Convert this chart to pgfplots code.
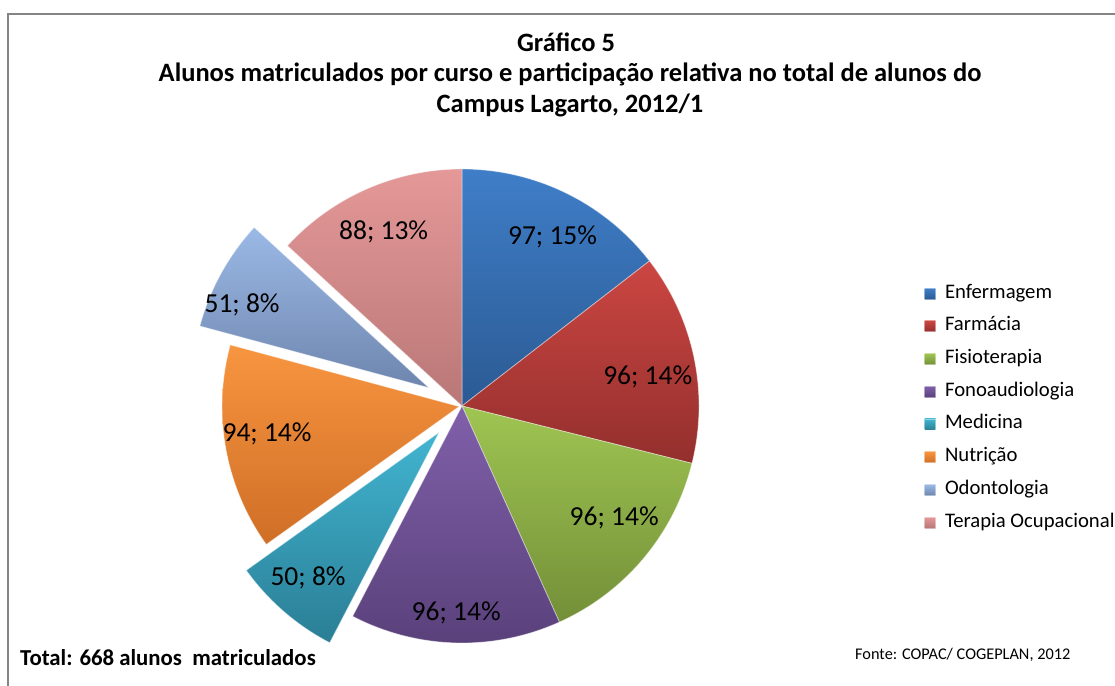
\documentclass[border=0pt]{standalone}
\usepackage{fontspec}
\setmainfont{Carlito}
\usepackage{pgfplots}
\pgfplotsset{compat=1.18}

\definecolor{enfT}{HTML}{3F7EC8}\definecolor{enfB}{HTML}{2B5A93}
\definecolor{farT}{HTML}{CB4642}\definecolor{farB}{HTML}{932F2D}
\definecolor{fisT}{HTML}{9FC552}\definecolor{fisB}{HTML}{738F38}
\definecolor{fonT}{HTML}{8060AA}\definecolor{fonB}{HTML}{5A417B}
\definecolor{medT}{HTML}{42B4D0}\definecolor{medB}{HTML}{2A7E95}
\definecolor{nutT}{HTML}{F89540}\definecolor{nutB}{HTML}{CF6E26}
\definecolor{odoT}{HTML}{9BB9E6}\definecolor{odoB}{HTML}{6E86AE}
\definecolor{terT}{HTML}{E59898}\definecolor{terB}{HTML}{B97777}

\tikzset{lbl/.style={font=\fontsize{27.5}{32}\selectfont}}

% pie centre (px), radius, total of all courses
\def\pcx{462}\def\pcy{279}\def\prad{237}\def\total{668}
\def\astart{90}

% #1 value, #2 percent label, #3 explode, #4 label radius, #5 label angle shift, #6 top, #7 bottom
\newcommand\slice[7]{%
  \pgfmathsetmacro\aend{\astart-#1/\total*360}%
  \pgfmathsetmacro\amid{(\astart+\aend)/2}%
  \pgfmathsetmacro\cx{\pcx+#3*cos(\amid)}%
  \pgfmathsetmacro\cy{\pcy+#3*sin(\amid)}%
  \pgfmathsetmacro\lx{\cx+#4*cos(\amid+#5)}%
  \pgfmathsetmacro\ly{\cy+#4*sin(\amid+#5)}%
  \edef\temp{\noexpand\addplot[top color=#6, bottom color=#7, draw=white,
    draw opacity=0.45, line width=0.8pt, domain=\aend:\astart, samples=60]
    ({\cx+\prad*cos(x)},{\cy+\prad*sin(x)}) -- (axis cs:\cx,\cy) -- cycle;}%
  \temp
  \edef\temp{\noexpand\node[lbl] at (axis cs:\lx,\ly) {#1; #2\noexpand\%};}%
  \temp
  \global\let\astart\aend
}

\begin{document}
\begin{tikzpicture}[x=1pt,y=1pt]
\useasboundingbox (0,0) rectangle (1115,685);
\draw[black!48, line width=1.3pt] (8,-2) -- (8,671) -- (1117,671);

\begin{axis}[at={(0,0)}, anchor=origin, x=1pt, y=1pt,
  xmin=0, xmax=1115, ymin=0, ymax=685, hide axis, clip=false,
  legend cell align=left,
  legend style={at={(axis cs:921,402)}, anchor=north west, draw=none, fill=none,
    font=\fontsize{20.7}{24}\selectfont, row sep=15.7pt, column sep=9pt,
    nodes={inner sep=0pt, text height=13pt, text depth=4pt}},
  legend image code/.code={\path[#1] (0pt,-5.5pt) rectangle (11pt,5.5pt);}]
\slice{97}{15}{0}{192}{-2}{enfT}{enfB}\addlegendentry{Enfermagem}
\slice{96}{14}{0}{188}{-3}{farT}{farB}\addlegendentry{Farmácia}
\slice{96}{14}{0}{189}{3.5}{fisT}{fisB}\addlegendentry{Fisioterapia}
\slice{96}{14}{0}{207}{0}{fonT}{fonB}\addlegendentry{Fonoaudiologia}
\slice{50}{8}{35}{196}{-1}{medT}{medB}\addlegendentry{Medicina}
\slice{94}{14}{3}{194}{-2}{nutT}{nutB}\addlegendentry{Nutrição}
\slice{51}{8}{38}{204}{5}{odoT}{odoB}\addlegendentry{Odontologia}
\slice{88}{13}{0}{191}{0.5}{terT}{terB}\addlegendentry{Terapia Ocupacional}
\end{axis}

\begin{scope}[every node/.style={font=\bfseries\fontsize{26.5}{30}\selectfont}]
\node at (566,643) {Gráfico 5};
\node at (570,611) {Alunos matriculados por curso e participação relativa no total de alunos do};
\node at (570,580) {Campus Lagarto, 2012/1};
\end{scope}
\node[anchor=west, inner sep=0pt, font=\bfseries\fontsize{22.8}{26}\selectfont] at (20,27) {Total: 668 alunos\ \ matriculados};
\node[anchor=west, inner sep=0pt, font=\fontsize{16.3}{19}\selectfont] at (855,30) {Fonte: COPAC/ COGEPLAN, 2012};
\end{tikzpicture}
\end{document}
